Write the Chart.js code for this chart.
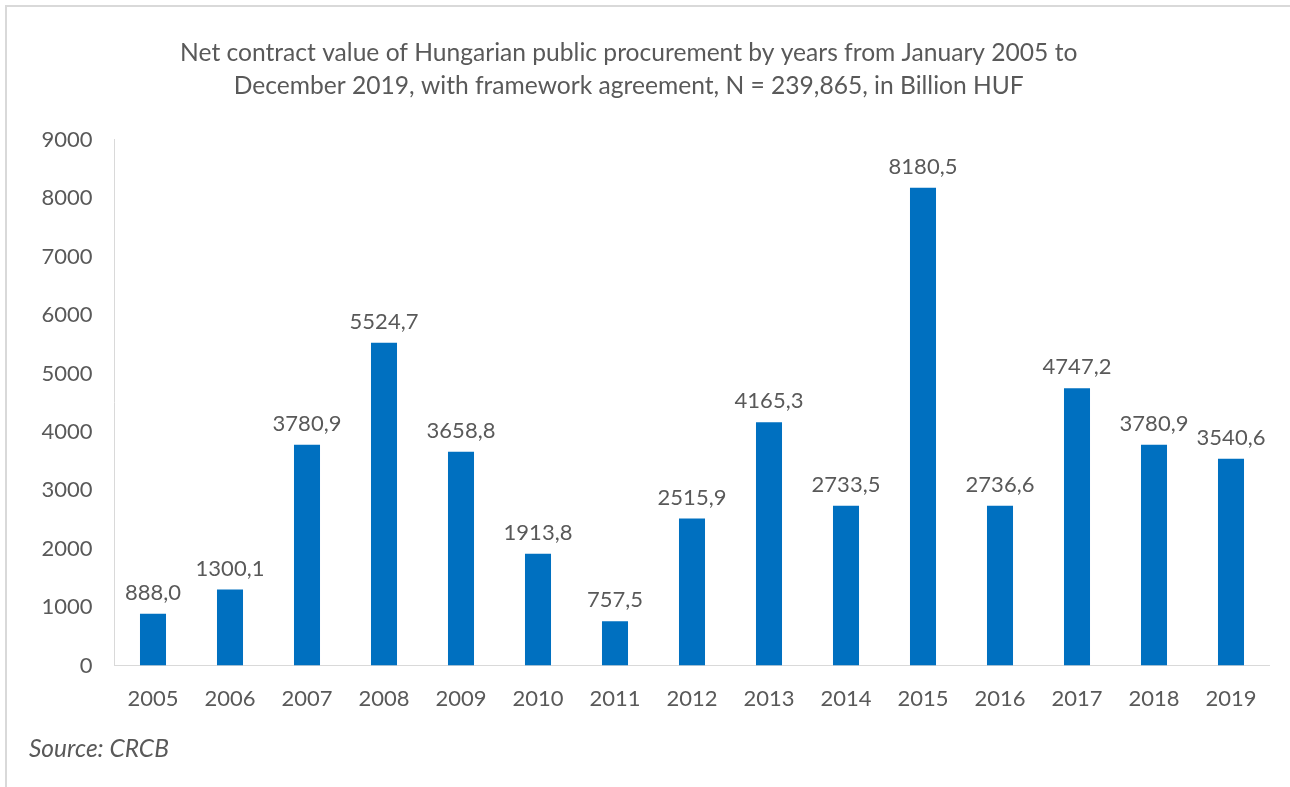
<!DOCTYPE html>
<html>
<head>
<meta charset="utf-8">
<script src="https://cdn.jsdelivr.net/npm/chart.js@4/dist/chart.umd.min.js"></script>
<style>
  html, body { margin: 0; padding: 0; background: #fff; overflow: hidden; }
  body { width: 1290px; height: 787px; position: relative; }
  #frame { position: absolute; left: 5px; top: 5px; width: 1290px; height: 800px;
           border-top: 2px solid #d9d9d9; border-left: 2px solid #d9d9d9; box-sizing: border-box; }
  #wrap { position: absolute; left: -12px; top: 0; width: 1302px; height: 787px; }
  #source { position: absolute; left: 29px; top: 733px; font-family: Lato, sans-serif;
            font-style: italic; font-size: 24.5px; color: #595959; }
</style>
</head>
<body>
<div id="frame"></div>
<div id="wrap"><canvas id="c" width="1302" height="787"></canvas></div>
<div id="source">Source: CRCB</div>
<script>
const categories = ['2005','2006','2007','2008','2009','2010','2011','2012','2013','2014','2015','2016','2017','2018','2019'];
const values = [888.0, 1300.1, 3780.9, 5524.7, 3658.8, 1913.8, 757.5, 2515.9, 4165.3, 2733.5, 8180.5, 2736.6, 4747.2, 3780.9, 3540.6];
const titleLines = ['Net contract value of Hungarian public procurement by years from January 2005 to',
                    'December 2019, with framework agreement, N = 239,865, in Billion HUF'];
const yMax = 9000;
const yStep = 1000;

const FONT = 'Lato, sans-serif';
const TEXT = '#595959';

const labelPlugin = {
  id: 'barLabels',
  afterDatasetsDraw(chart) {
    const ctx = chart.ctx;
    const meta = chart.getDatasetMeta(0);
    ctx.save();
    ctx.font = '22px ' + FONT;
    ctx.fillStyle = TEXT;
    ctx.textAlign = 'center';
    ctx.textBaseline = 'alphabetic';
    meta.data.forEach((bar, i) => {
      const txt = values[i].toFixed(1).replace('.', ',');
      ctx.fillText(txt, bar.x, bar.y - 14);
    });
    ctx.restore();
  }
};

new Chart(document.getElementById('c'), {
  type: 'bar',
  data: {
    labels: categories,
    datasets: [{
      data: values,
      backgroundColor: '#0070C0',
      borderWidth: 0,
      barPercentage: 0.338,
      categoryPercentage: 1.0
    }]
  },
  options: {
    responsive: false,
    animation: false,
    events: [],
    layout: { padding: { left: 0, right: 20.5, top: 0, bottom: 0 } },
    plugins: {
      legend: { display: false },
      tooltip: { enabled: false },
      title: {
        display: true,
        text: titleLines,
        color: TEXT,
        font: { family: FONT, size: 24.6, weight: 'normal', lineHeight: 1.36 },
        padding: { top: 36, bottom: 37 }
      }
    },
    scales: {
      x: {
        grid: { display: false, drawTicks: false },
        border: { display: true, color: '#d9d9d9', width: 1 },
        ticks: { color: TEXT, font: { family: FONT, size: 22 }, padding: 20, maxRotation: 0 },
        afterFit(scale) { scale.height = 121.5; }
      },
      y: {
        min: 0, max: yMax,
        grid: { display: false, drawTicks: false },
        border: { display: true, color: '#d9d9d9', width: 1 },
        ticks: { stepSize: yStep, color: TEXT, font: { family: FONT, size: 22 }, padding: 22,
                 callback: (v) => String(v) },
        afterFit(scale) { scale.width = 126.5; }
      }
    }
  },
  plugins: [labelPlugin]
});
</script>
</body>
</html>
